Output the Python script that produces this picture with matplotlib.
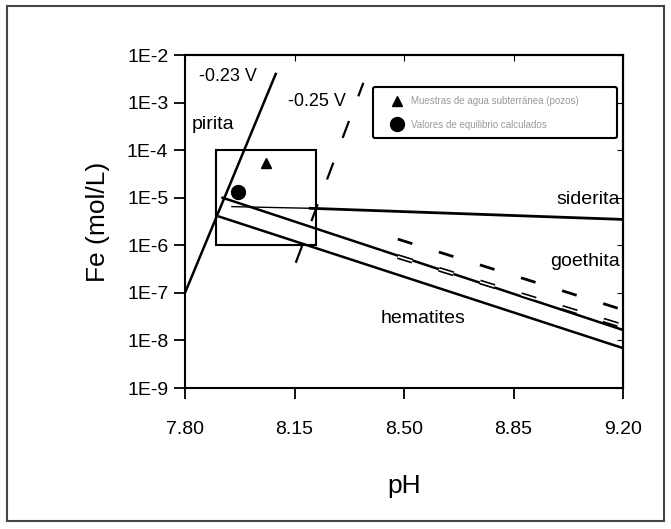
import matplotlib
matplotlib.use("Agg")
import matplotlib.pyplot as plt
import matplotlib.patheffects as pe
from matplotlib.patches import Rectangle

plt.rcParams["font.family"] = ["Liberation Sans", "DejaVu Sans"]
plt.rcParams["lines.scale_dashes"] = False

# lines (pH, Fe mol/L)
pirita_ph = [7.80, 8.09]
pirita_fe = [1.0e-7, 4.0e-3]

v025_ph = [8.154, 8.37]
v025_fe = [4.3e-7, 2.6e-3]

siderita_ph = [7.95, 8.20, 9.20]
siderita_fe = [6.5e-6, 6.0e-6, 3.5e-6]

goethita_ph = [7.92, 9.20]
goethita_fe = [1.0e-5, 1.66e-8]

hematites_ph = [7.91, 9.20]
hematites_fe = [4.0e-6, 6.9e-9]

goethita2_ph = [8.48, 9.20]
goethita2_fe = [1.35e-6, 4.4e-8]

hematites2_ph = [8.48, 9.20]
hematites2_fe = [5.8e-7, 2.0e-8]

# muestras
tri_ph, tri_fe = [8.06], [5.4e-5]
dot_ph, dot_fe = [7.97], [1.3e-5]

# recuadro de muestras
box_ph = (7.90, 8.22)
box_fe = (1e-6, 1e-4)

xticks = [7.80, 8.15, 8.50, 8.85, 9.20]
xlabels = ["7.80", "8.15", "8.50", "8.85", "9.20"]
yticks = [1e-2, 1e-3, 1e-4, 1e-5, 1e-6, 1e-7, 1e-8, 1e-9]
ylabels = ["1E-2", "1E-3", "1E-4", "1E-5", "1E-6", "1E-7", "1E-8", "1E-9"]

fig = plt.figure(figsize=(6.71, 5.29), dpi=100)
ax = fig.add_axes([0.2757, 0.2665, 0.6528, 0.6295])
ax.set_yscale("log")
ax.set_xlim(7.80, 9.20)
ax.set_ylim(1e-9, 1e-2)

k = "black"
ax.plot(pirita_ph, pirita_fe, color=k, lw=1.8)
ax.plot(v025_ph, v025_fe, color=k, lw=1.6, dashes=(13, 19))
ax.plot(siderita_ph[:2], siderita_fe[:2], color=k, lw=1.0)
ax.plot(siderita_ph[1:], siderita_fe[1:], color=k, lw=2.0)
ax.plot(goethita_ph, goethita_fe, color=k, lw=1.8)
ax.plot(hematites_ph, hematites_fe, color=k, lw=1.8)
ax.plot(goethita2_ph, goethita2_fe, color=k, lw=2.0, dashes=(11, 20))
ax.plot(hematites2_ph, hematites2_fe, color=k, lw=1.2, dashes=(11, 20),
        path_effects=[pe.Stroke(linewidth=3.6, foreground=k), pe.Stroke(linewidth=1.2, foreground="white")])

ax.add_patch(Rectangle((box_ph[0], box_fe[0]), box_ph[1] - box_ph[0], box_fe[1] - box_fe[0],
                       fill=False, ec=k, lw=1.5))

ax.plot(tri_ph, tri_fe, "^", color=k, ms=7, label="Muestras de agua subterránea (pozos)")
ax.plot(dot_ph, dot_fe, "o", color=k, ms=10, label="Valores de equilibrio calculados")

fs = 14
ax.text(7.845, 10**-2.46, "-0.23 V", fontsize=13, va="center")
ax.text(8.128, 10**-2.97, "-0.25 V", fontsize=13, va="center")
ax.text(7.822, 10**-3.47, "pirita", fontsize=fs, va="center")
ax.text(9.19, 10**-5.03, "siderita", fontsize=fs, va="center", ha="right")
ax.text(9.19, 10**-6.35, "goethita", fontsize=fs, va="center", ha="right")
ax.text(8.425, 10**-7.53, "hematites", fontsize=fs, va="center")

leg = ax.legend(loc="lower left", bbox_to_anchor=(0.43, 0.75, 0.556, 0.15), mode="expand",
                borderaxespad=0, fontsize=7, labelspacing=1.4, borderpad=0.9, handletextpad=0.0,
                handlelength=3.0, fancybox=True, framealpha=1, edgecolor=k)
leg.get_frame().set_linewidth(1.5)
for t in leg.get_texts():
    t.set_color("#9a9a9a")

ax.set_xticks(xticks)
ax.set_xticklabels(xlabels)
ax.set_yticks(yticks)
ax.set_yticklabels(ylabels)
ax.minorticks_off()
ax.tick_params(axis="both", direction="out", length=8, width=1.3, labelsize=14)
ax.tick_params(axis="x", pad=16)
ax.tick_params(axis="y", pad=4)

top = ax.secondary_xaxis("top")
top.set_xticks(xticks)
top.tick_params(direction="in", length=4, labeltop=False)
right = ax.secondary_yaxis("right")
right.set_yticks(yticks)
right.minorticks_off()
right.tick_params(direction="in", length=4, labelright=False)
for a in (ax, top, right):
    for s in a.spines.values():
        s.set_linewidth(1.5)

ax.set_xlabel("pH", fontsize=19, labelpad=26)
ax.set_ylabel("Fe (mol/L)", fontsize=19, labelpad=12)

fig.patches.append(Rectangle((7 / 671, 8 / 529), 657 / 671, 515 / 529, transform=fig.transFigure,
                             fill=False, ec="#444444", lw=1.5))

fig.savefig("out.png", dpi=100)
